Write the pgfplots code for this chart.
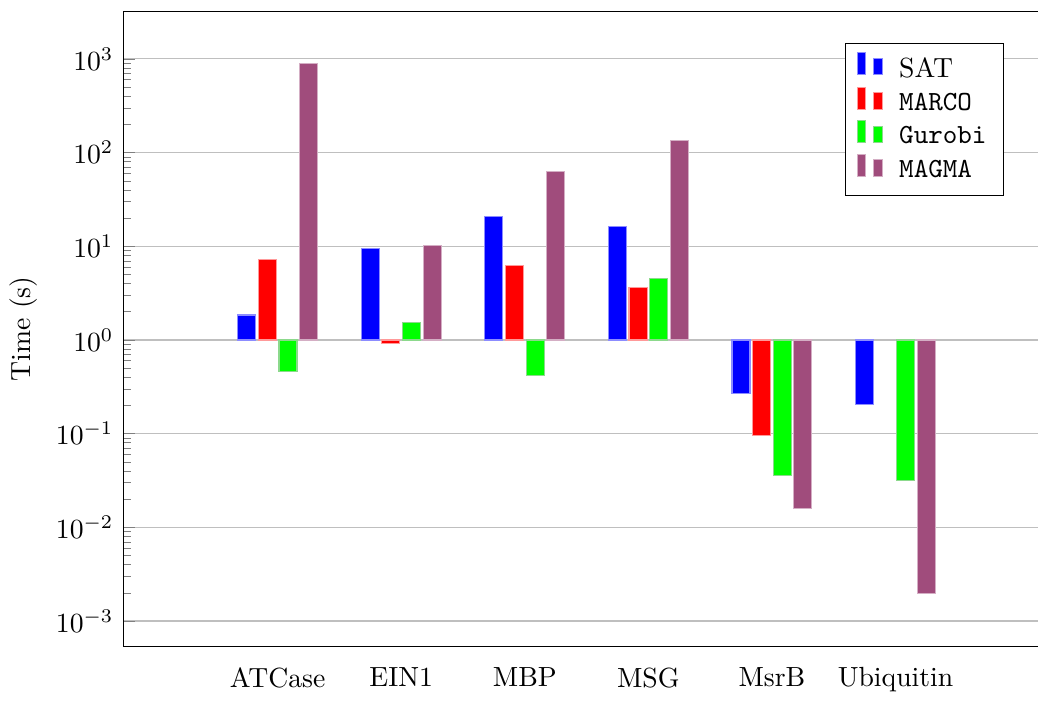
\documentclass[border=0pt]{standalone}
\usepackage{pgfplots}
\pgfplotsset{compat=1.18}
\definecolor{magmac}{RGB}{160,76,124}
\begin{document}
\begin{tikzpicture}
\begin{axis}[
  scale only axis,
  width=330.5pt, height=229pt,
  ymode=log,
  ybar=0.95pt,
  bar width=6.5pt,
  xmin=-1.25, xmax=6.16,
  ymin=5.4e-4, ymax=3200,
  xtick={0,1,2,3,4,5},
  xticklabels={ATCase,EIN1,MBP,MSG,MsrB,Ubiquitin},
  xtick style={draw=none},
  ytick={1e-3,1e-2,1e-1,1,1e1,1e2,1e3},
  ytick pos=left,
  ymajorgrids,
  grid style={gray!50},
  ylabel={Time (s)},
  legend style={at={(0.9616,0.9508)}, anchor=north east, draw=black, fill=white,
    inner xsep=4pt, inner ysep=3pt,
    /tikz/every odd column/.append style={column sep=4pt}},
  legend cell align=left,
]
\addplot[fill=blue, draw=blue!45] coordinates {(0,1.85) (1,9.45) (2,21) (3,16.4) (4,0.268) (5,0.207)};
\addplot[fill=red, draw=red!40] coordinates {(0,7.3) (1,0.91) (2,6.2) (3,3.6) (4,0.096)};
\addplot[fill=green, draw=green!50!gray!60] coordinates {(0,0.46) (1,1.54) (2,0.42) (3,4.5) (4,0.036) (5,0.0319)};
\addplot[fill=magmac, draw=magmac!45] coordinates {(0,885) (1,10.3) (2,63) (3,135) (4,0.0158) (5,0.00197)};
\legend{SAT,\texttt{MARCO},\texttt{Gurobi},\texttt{MAGMA}}
\coordinate (axSE) at (rel axis cs:1,0);
\coordinate (axNW) at (rel axis cs:0,1);
\end{axis}
\coordinate (bbA) at ([yshift=4.2pt]current axis.outer west |- axNW);
\coordinate (bbB) at ([xshift=-0.3pt]axSE |- current axis.outer south);
\pgfresetboundingbox
\path[use as bounding box] (bbA) rectangle (bbB);
\end{tikzpicture}
\end{document}
